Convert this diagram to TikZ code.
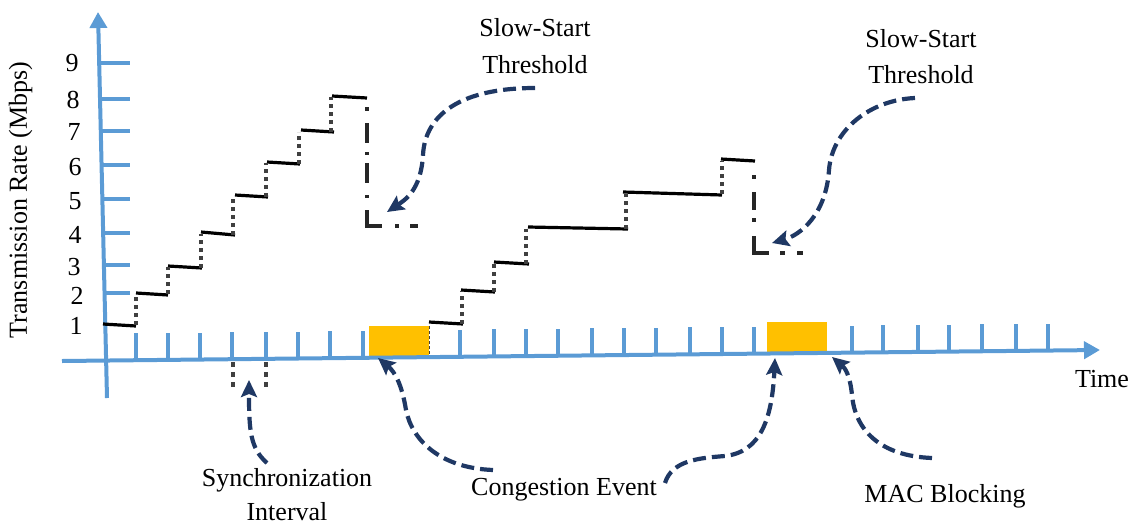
\documentclass[tikz,border=0pt]{standalone}
\usepackage{fontspec}
\setmainfont{Liberation Serif}
\usetikzlibrary{arrows.meta}
\definecolor{axisblue}{HTML}{5B9BD5}
\definecolor{navy}{HTML}{1F3864}
\definecolor{gold}{HTML}{FFC000}
\definecolor{dotgray}{HTML}{404040}
\tikzset{
  axisline/.style={axisblue, line width=4pt, -{Triangle[length=16pt,width=17pt]}},
  tickline/.style={axisblue, line width=3.5pt},
  rateline/.style={black, line width=3.2pt},
  riseline/.style={dotgray, line width=4pt, dash pattern=on 4pt off 4pt},
  dropline/.style={black!85, line width=3.2pt},
  pointer/.style={navy, line width=4.2pt, dash pattern=on 13pt off 6pt,
    -{Stealth[length=17pt,width=16pt,inset=3pt]}},
  lbl/.style={font=\fontsize{26}{30}\selectfont, inner sep=0pt},
  busy/.style={fill=gold, draw=none},
}
\begin{document}
\begin{tikzpicture}[x=1pt,y=-1pt]
\useasboundingbox (0,0) rectangle (1131,525);

% blocked periods on the time line
\fill[busy] (369,326) rectangle (429,357.5);
\fill[busy] (767,322) rectangle (827,353.5);
\draw[dotgray, line width=0.8pt, dash pattern=on 3pt off 2pt] (429,326) -- (429,357);

% time slots
\foreach \t in {136,168,200,232,266,298,330,363,460,494,526,558,592,624,656,690,722,754,852,883,918,949,982,1016,1048}{
  \pgfmathsetmacro\ay{361-(\t-62)*11/1038}
  \draw[tickline] (\t,\ay) -- (\t,\ay-27);
}
% rate ticks
\foreach \v in {63,99,131,165,199,233,265,293}{
  \pgfmathsetmacro\ax{98+(\v-13)*9/385}
  \draw[tickline] (\ax,\v) -- (130,\v);
}

% axes
\coordinate (yfoot) at (107,398);
\coordinate (ytip) at (98,12);
\coordinate (xfoot) at (62,361);
\coordinate (xtip) at (1100,350);
\draw[axisline] (yfoot) -- (ytip);
\draw[axisline] (xfoot) -- (xtip);

% rate values
\node[lbl] (r9) at (72,63) {9};
\node[lbl] (r8) at (73,100) {8};
\node[lbl] (r7) at (74,132) {7};
\node[lbl] (r6) at (75,167) {6};
\node[lbl] (r5) at (75,201) {5};
\node[lbl] (r4) at (75,235) {4};
\node[lbl] (r3) at (74,267) {3};
\node[lbl] (r2) at (77,296) {2};
\node[lbl] (r1) at (76,326) {1};

% first slow-start ramp
\draw[rateline] (103,324) -- (136,326);
\draw[rateline] (136,293) -- (168,295);
\draw[rateline] (168,266) -- (202,268);
\draw[rateline] (201,232) -- (235,235);
\draw[rateline] (235,195) -- (268,197);
\draw[rateline] (267,162) -- (300,164);
\draw[rateline] (301,130) -- (334,132);
\draw[rateline] (332,96) -- (367,98);
\draw[riseline] (136,325) -- (136,295);
\draw[riseline] (168,294) -- (168,267);
\draw[riseline] (201,268) -- (201,234);
\draw[riseline] (233,235) -- (233,197);
\draw[riseline] (266,197) -- (266,163);
\draw[riseline] (299,164) -- (299,132);
\draw[riseline] (331,132) -- (331,97);
\draw[dropline, dash pattern=on 4pt off 12pt on 20pt off 9pt on 3pt off 8pt on 20pt off 12pt on 3pt off 12pt on 31pt off 13pt on 4pt off 11pt on 8pt off 8pt, dash phase=170pt]
  (367,99) -- (367,226) -- (418,226);

% second ramp
\draw[rateline] (429,322) -- (463,324);
\draw[rateline] (461,290) -- (495,292);
\draw[rateline] (494,262) -- (529,264);
\draw[rateline] (528,227) -- (628,229);
\draw[rateline] (623,192) -- (722,195);
\draw[rateline] (721,159) -- (755,161);
\draw[riseline] (462,324) -- (462,291);
\draw[riseline] (494,292) -- (494,264);
\draw[riseline] (526,264) -- (526,229);
\draw[riseline] (626,229) -- (626,194);
\draw[riseline] (722,194) -- (722,161);
\draw[dropline, dash pattern=on 4pt off 13pt on 18pt off 8pt on 4pt off 14pt on 32pt off 11pt on 5pt off 12pt on 6pt off 14pt, dash phase=127pt]
  (754,161) -- (754,253) -- (803,253);

% synchronization interval marks
\draw[riseline, line width=4.5pt, dash pattern=on 5pt off 5pt] (233,362) -- (233,388);
\draw[riseline, line width=4.5pt, dash pattern=on 5pt off 5pt] (266,362) -- (266,388);

% labels
\node[lbl, anchor=base] (ss1a) at (535,36) {Slow-Start};
\node[lbl, anchor=base] (ss1b) at (535,73) {Threshold};
\node[lbl, anchor=base] (ss2a) at (921,47) {Slow-Start};
\node[lbl, anchor=base] (ss2b) at (921,83) {Threshold};
\node[lbl, anchor=base] (sync1) at (287,486) {Synchronization};
\node[lbl, anchor=base] (sync2) at (287,520) {Interval};
\node[lbl, anchor=base] (cong) at (564,495) {Congestion Event};
\node[lbl, anchor=base] (mac) at (945,502) {MAC Blocking};
\node[lbl, anchor=base] (time) at (1102,387) {Time};
\node[lbl, anchor=base, rotate=90] (ylab) at (27,200) {Transmission Rate (Mbps)};

% pointers
\coordinate (ss1from) at (535,88);
\coordinate (ss1to) at (387,212);
\draw[pointer] (ss1from) .. controls (460,88) and (425,115) .. (423,155)
  .. controls (421,190) and (405,200) .. (ss1to);
\coordinate (ss2from) at (915,98);
\coordinate (ss2to) at (772,243);
\draw[pointer] (ss2from) .. controls (870,100) and (832,130) .. (829,170)
  .. controls (826,215) and (800,235) .. (ss2to);
\coordinate (syfrom) at (267,463);
\coordinate (syto) at (249,380);
\draw[pointer] (syfrom) .. controls (250,448) and (249,430) .. (syto);
\coordinate (ce1from) at (493,470);
\coordinate (ce1to) at (378,358);
\draw[pointer] (ce1from) .. controls (440,468) and (412,440) .. (406,410)
  .. controls (402,385) and (395,372) .. (ce1to);
\coordinate (ce2from) at (665,483);
\coordinate (ce2to) at (775,358);
\draw[pointer] (ce2from) .. controls (672,460) and (700,458) .. (725,456)
  .. controls (760,452) and (772,420) .. (ce2to);
\coordinate (macfrom) at (932,458);
\coordinate (macto) at (832,357);
\draw[pointer] (macfrom) .. controls (880,456) and (855,430) .. (852,395)
  .. controls (850,375) and (845,368) .. (macto);
\end{tikzpicture}
\end{document}
